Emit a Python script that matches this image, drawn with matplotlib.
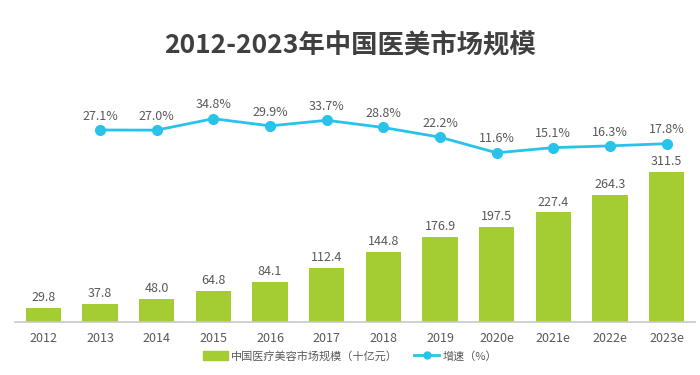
import numpy as np
import matplotlib.pyplot as plt
from matplotlib.lines import Line2D
from matplotlib.patches import Patch

plt.rcParams['font.family'] = ['Noto Sans CJK SC', 'DejaVu Sans']

# datos
anios = ['2012', '2013', '2014', '2015', '2016', '2017', '2018', '2019',
         '2020e', '2021e', '2022e', '2023e']
mercado = [29.8, 37.8, 48.0, 64.8, 84.1, 112.4, 144.8, 176.9, 197.5, 227.4, 264.3, 311.5]
anios_crec = anios[1:]
crecimiento = [27.1, 27.0, 34.8, 29.9, 33.7, 28.8, 22.2, 11.6, 15.1, 16.3, 17.8]

verde = '#A4CC33'
cian = '#29C3EA'
gris = '#595959'

fig = plt.figure(figsize=(7, 3.75), dpi=100)
ax = fig.add_axes([15/700, 1 - 322/375, 680/700, 222/375])

x = np.arange(len(anios))
ax.bar(x, mercado, width=0.62, color=verde, zorder=2)
for xi, v in zip(x, mercado):
    ax.text(xi, v + 8, f'{v:.1f}', ha='center', va='bottom', fontsize=9, color=gris)

ax.set_xlim(-0.5, len(anios) - 0.5)
ax.set_ylim(0, 461)
ax.set_xticks(x)
ax.set_xticklabels(anios, fontsize=9, color=gris)
ax.tick_params(axis='x', length=0, pad=7)
ax.set_yticks([])
for s in ['top', 'right', 'left']:
    ax.spines[s].set_visible(False)
ax.spines['bottom'].set_color('#c8c8c8')
ax.spines['bottom'].set_linewidth(1.2)

# eje secundario para el crecimiento
ax2 = ax.twinx()
xc = np.arange(1, len(anios))
ax2.plot(xc, crecimiento, color=cian, lw=2, marker='o', ms=7, zorder=3)
for xi, v in zip(xc, crecimiento):
    ax2.text(xi, v + 5, f'{v:.1f}%', ha='center', va='bottom', fontsize=9, color=gris)
ax2.set_ylim(-103.5, 47.5)
ax2.set_yticks([])
for s in ax2.spines.values():
    s.set_visible(False)

fig.text(0.5, 1 - 46/375, '2012-2023年中国医美市场规模', ha='center', va='center',
         fontsize=19, fontweight='bold', color='#404040')

handles = [Patch(color=verde), Line2D([0], [0], color=cian, lw=2, marker='o', ms=5)]
fig.legend(handles, ['中国医疗美容市场规模（十亿元）', '增速（%）'], loc='center',
           bbox_to_anchor=(0.5, 1 - 356/375), ncol=2, frameon=False, fontsize=8,
           labelcolor=gris, handlelength=2.2, handleheight=0.8, columnspacing=1.5,
           handletextpad=0.3)

fig.savefig('out.png', dpi=100)
